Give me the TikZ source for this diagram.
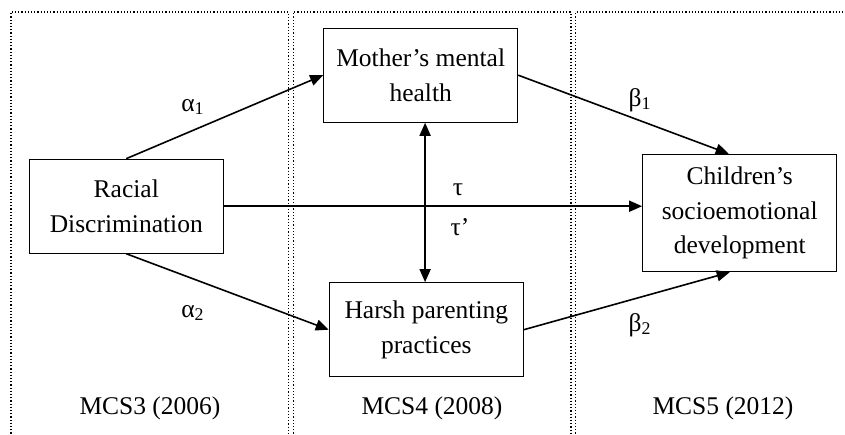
\documentclass[tikz,border=0pt]{standalone}
\usepackage{fontspec}
\setmainfont{Liberation Serif}
\usetikzlibrary{arrows.meta}
\tikzset{
  panel/.style={densely dotted, line width=0.6pt},
  box/.style={draw, line width=0.55pt, align=center, inner sep=0pt,
    minimum width=97pt, minimum height=47pt},
  link/.style={line width=0.8pt, -{Triangle[length=6.5pt,width=5.5pt]}},
  lab/.style={inner sep=0pt}
}
\begin{document}
\begin{tikzpicture}[x=0.5pt,y=-0.5pt,font=\fontsize{12.75}{17.2}\selectfont]
\useasboundingbox (0,0) rectangle (845,434);

\draw[panel] (11,440) -- (11,12) -- (288.5,12) -- (288.5,440);
\draw[panel] (293.3,440) -- (293.3,12) -- (571,12) -- (571,440);
\draw[panel] (575.7,440) -- (575.7,12) -- (850,12);

\node[box] (R) at (126.3,206.2) {Racial\\Discrimination};
\node[box] (M) at (420.7,75.2) {Mother’s mental\\health};
\node[box] (H) at (426.3,329.7) {Harsh parenting\\practices};
\node[box,minimum height=58.7pt] (C) at (739.7,213) {Children’s\\socioemotional\\development};

\node[lab] (a1) at (193,107) {α\textsubscript{1}};
\node[lab] (b1) at (640,100) {β\textsubscript{1}};
\node[lab] (a2) at (193,313) {α\textsubscript{2}};
\node[lab] (b2) at (640,325) {β\textsubscript{2}};
\node[lab] (t) at (458,190) {τ};
\node[lab] (tp) at (460,227) {τ’};

\node (m3) at (150,408) {MCS3 (2006)};
\node (m4) at (432,408) {MCS4 (2008)};
\node (m5) at (723,408) {MCS5 (2012)};

\draw[link] (R.north) -- (M.west);
\draw[link] (R.south) -- (H.west);
\draw[link] (M.east) -- ([xshift=-5.5pt]C.north);
\draw[link] (H.east) -- ([xshift=-5pt]C.south);
\draw[link] (R.east) -- (R.east -| C.west);
\draw[link,{Triangle[length=6.5pt,width=5.5pt]}-{Triangle[length=6.5pt,width=5.5pt]}] ([xshift=2.2pt]M.south) -- ([xshift=2.2pt]M.south |- H.north);
\end{tikzpicture}
\end{document}
